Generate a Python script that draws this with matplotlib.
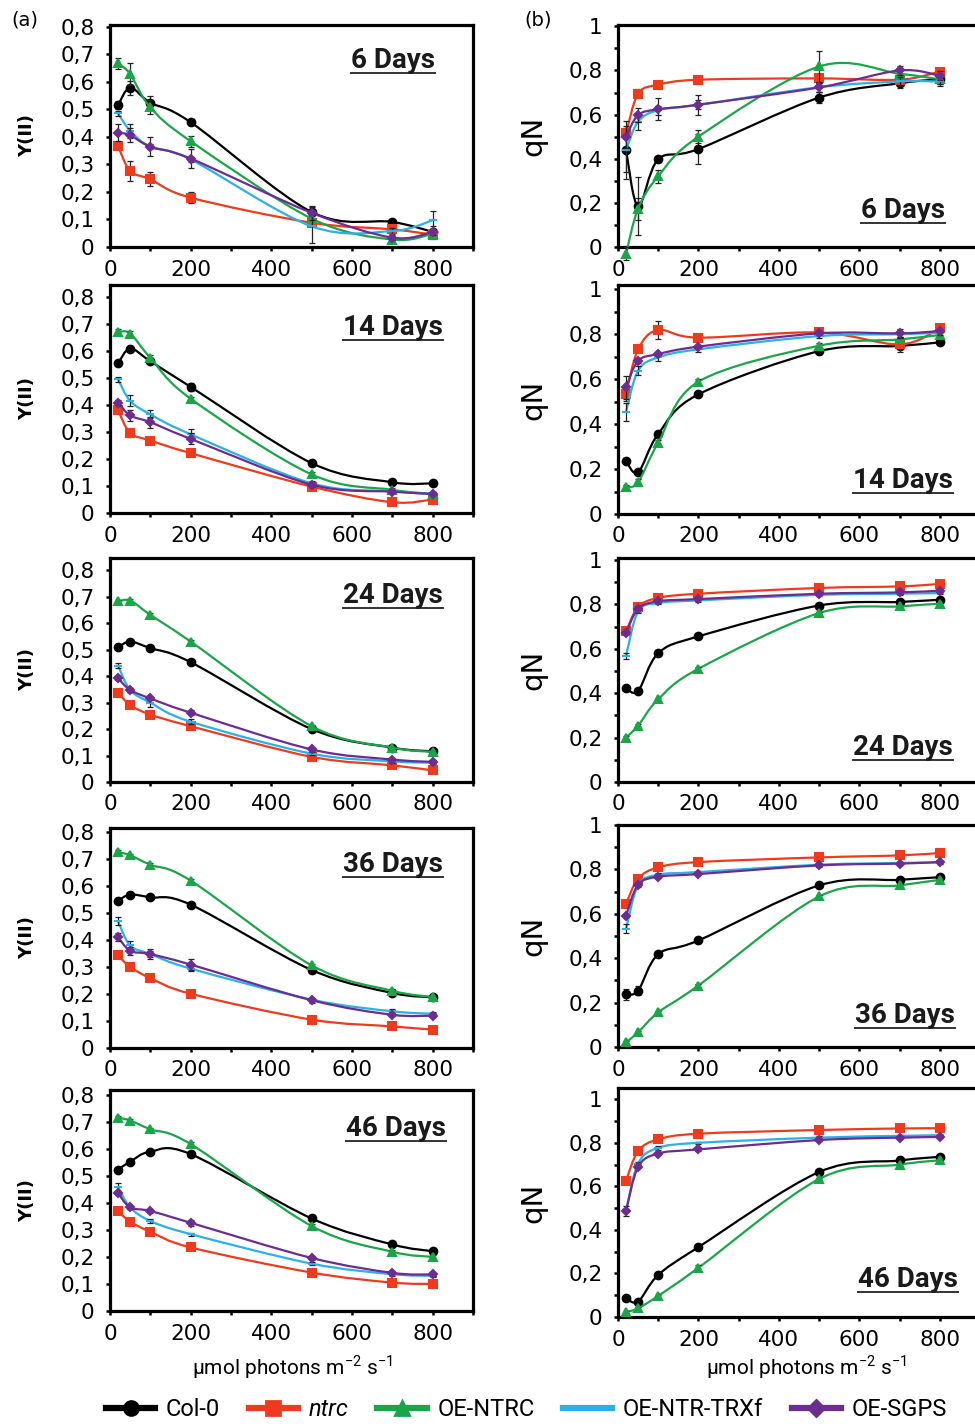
import numpy as np
import matplotlib.pyplot as plt
from matplotlib.path import Path
from matplotlib.patches import PathPatch
from matplotlib.lines import Line2D
from matplotlib.ticker import MultipleLocator, FuncFormatter

# light intensities (umol photons m-2 s-1)
light = [20, 50, 100, 200, 500, 700, 800]
days = ['6 Days', '14 Days', '24 Days', '36 Days', '46 Days']
genotypes = ['Col-0', 'ntrc', 'OE-NTRC', 'OE-NTR-TRXf', 'OE-SGPS']
colors = ['#000000', '#ee3a1d', '#1ba548', '#2cb0e6', '#6b2d8f']
markers = ['o', 's', '^', '_', 'D']
msizes = [5.5, 6, 6, 6, 3.8]

# Y(II), one row per age
yII_col0 = [[0.515, 0.578, 0.524, 0.453, 0.127, 0.091, 0.055],
            [0.555, 0.610, 0.563, 0.468, 0.185, 0.114, 0.110],
            [0.509, 0.531, 0.506, 0.453, 0.200, 0.130, 0.116],
            [0.546, 0.568, 0.558, 0.531, 0.289, 0.204, 0.188],
            [0.523, 0.552, 0.589, 0.580, 0.342, 0.246, 0.221]]
yII_ntrc = [[0.366, 0.276, 0.246, 0.179, 0.088, 0.064, 0.045],
            [0.381, 0.297, 0.269, 0.222, 0.098, 0.040, 0.050],
            [0.338, 0.291, 0.255, 0.211, 0.095, 0.063, 0.044],
            [0.343, 0.300, 0.259, 0.201, 0.105, 0.080, 0.068],
            [0.369, 0.330, 0.293, 0.235, 0.142, 0.105, 0.100]]
yII_oentrc = [[0.667, 0.628, 0.507, 0.384, 0.103, 0.027, 0.048],
              [0.672, 0.666, 0.576, 0.424, 0.143, 0.086, 0.071],
              [0.683, 0.686, 0.632, 0.531, 0.211, 0.130, 0.114],
              [0.726, 0.714, 0.679, 0.620, 0.306, 0.212, 0.189],
              [0.715, 0.704, 0.672, 0.617, 0.314, 0.219, 0.200]]
yII_trxf = [[0.485, 0.422, 0.364, 0.318, 0.075, 0.058, 0.097],
            [0.496, 0.416, 0.366, 0.292, 0.110, 0.081, 0.071],
            [0.440, 0.348, 0.300, 0.228, 0.107, 0.078, 0.073],
            [0.469, 0.380, 0.348, 0.294, 0.179, 0.136, 0.127],
            [0.457, 0.383, 0.333, 0.284, 0.175, 0.136, 0.130]]
yII_sgps = [[0.415, 0.406, 0.364, 0.321, 0.124, 0.034, 0.055],
            [0.410, 0.362, 0.337, 0.275, 0.105, 0.079, 0.071],
            [0.392, 0.348, 0.316, 0.262, 0.123, 0.085, 0.076],
            [0.411, 0.360, 0.348, 0.309, 0.177, 0.123, 0.120],
            [0.435, 0.383, 0.370, 0.326, 0.196, 0.141, 0.135]]

# qN, one row per age
qN_col0 = [[0.440, 0.185, 0.397, 0.444, 0.677, 0.742, 0.760],
           [0.236, 0.185, 0.356, 0.532, 0.724, 0.747, 0.763],
           [0.423, 0.410, 0.580, 0.656, 0.795, 0.811, 0.821],
           [0.238, 0.254, 0.418, 0.480, 0.728, 0.753, 0.765],
           [0.087, 0.071, 0.193, 0.321, 0.666, 0.719, 0.736]]
qN_ntrc = [[0.515, 0.694, 0.735, 0.758, 0.764, 0.758, 0.795],
           [0.533, 0.732, 0.818, 0.784, 0.807, 0.754, 0.825],
           [0.678, 0.788, 0.829, 0.848, 0.874, 0.881, 0.892],
           [0.644, 0.758, 0.809, 0.833, 0.854, 0.863, 0.874],
           [0.626, 0.762, 0.816, 0.842, 0.859, 0.866, 0.867]]
qN_oentrc = [[-0.030, 0.174, 0.321, 0.500, 0.818, 0.785, 0.760],
             [0.121, 0.141, 0.317, 0.588, 0.748, 0.776, 0.796],
             [0.200, 0.254, 0.373, 0.510, 0.761, 0.791, 0.803],
             [0.021, 0.066, 0.156, 0.277, 0.678, 0.728, 0.753],
             [0.023, 0.040, 0.097, 0.226, 0.634, 0.700, 0.720]]
qN_trxf = [[0.440, 0.568, 0.620, 0.644, 0.724, 0.750, 0.750],
           [0.455, 0.637, 0.696, 0.732, 0.791, 0.799, 0.806],
           [0.568, 0.768, 0.806, 0.818, 0.843, 0.848, 0.851],
           [0.532, 0.728, 0.776, 0.788, 0.821, 0.829, 0.832],
           [0.490, 0.705, 0.777, 0.800, 0.824, 0.832, 0.835]]
qN_sgps = [[0.500, 0.598, 0.624, 0.645, 0.723, 0.800, 0.776],
           [0.563, 0.681, 0.711, 0.744, 0.803, 0.803, 0.813],
           [0.671, 0.780, 0.814, 0.824, 0.848, 0.854, 0.862],
           [0.592, 0.731, 0.767, 0.779, 0.818, 0.826, 0.833],
           [0.487, 0.689, 0.751, 0.770, 0.813, 0.824, 0.827]]

# standard errors
s = 0.006
err_yII_col0 = [[0.015, 0.025, 0.025, 0.01, 0.02, 0.01, 0.02],
                [0.01, 0.01, 0.01, 0.015, s, 0.01, s],
                [0.01, s, 0.01, s, 0.01, s, s],
                [0.01, s, s, s, 0.01, 0.01, s],
                [0.01, s, s, s, s, s, s]]
err_yII_ntrc = [[0.01, 0.035, 0.025, 0.02, 0.01, 0.01, 0.015],
                [0.01, 0.015, s, 0.01, 0.01, s, 0.01],
                [s, s, s, s, s, s, s],
                [s, s, s, s, s, s, s],
                [s, s, s, s, s, s, s]]
err_yII_oentrc = [[0.02, 0.04, 0.025, 0.02, 0.01, 0.01, 0.01],
                  [0.01, 0.01, 0.01, s, 0.01, s, s],
                  [s, s, s, s, s, s, s],
                  [s, s, s, s, s, s, s],
                  [s, s, s, s, s, s, s]]
err_yII_trxf = [[0.01, 0.025, 0.01, 0.01, 0.06, 0.01, 0.035],
                [0.01, 0.02, 0.015, 0.02, 0.01, s, s],
                [0.01, s, 0.015, 0.01, s, s, s],
                [0.015, 0.015, 0.01, 0.01, s, 0.01, s],
                [0.015, s, s, s, s, s, s]]
err_yII_sgps = [[0.03, 0.025, 0.035, 0.035, 0.025, 0.01, 0.01],
                [0.01, 0.02, 0.02, 0.02, 0.01, s, s],
                [s, s, s, 0.01, s, s, s],
                [0.015, 0.015, 0.02, 0.02, 0.01, s, s],
                [s, s, s, 0.01, s, s, s]]
err_qN_col0 = [[0.10, 0.13, 0.01, 0.07, 0.025, 0.02, 0.02],
               [0.01, 0.01, 0.01, 0.01, 0.01, 0.01, 0.01],
               [s, s, s, s, s, s, s],
               [0.025, 0.02, 0.01, 0.01, 0.01, 0.01, 0.01],
               [s, s, s, s, s, s, s]]
err_qN_ntrc = [[0.02, 0.02, 0.01, 0.01, 0.02, 0.01, 0.01],
               [0.03, 0.01, 0.04, 0.01, 0.01, 0.035, 0.01],
               [s, s, s, s, s, s, s],
               [s, s, s, s, s, s, s],
               [s, s, s, s, s, s, s]]
err_qN_oentrc = [[0.03, 0.05, 0.03, 0.03, 0.07, 0.02, 0.02],
                 [0.01, 0.015, 0.01, 0.01, 0.01, 0.01, 0.01],
                 [s, s, s, s, s, s, s],
                 [s, s, s, s, s, s, s],
                 [s, s, s, 0.015, s, s, s]]
err_qN_trxf = [[0.13, 0.04, 0.02, 0.02, 0.02, 0.02, 0.02],
               [0.04, 0.02, 0.015, 0.01, 0.01, 0.01, 0.01],
               [0.015, s, s, s, s, s, s],
               [0.02, s, s, s, s, s, s],
               [s, s, 0.01, s, s, s, s]]
err_qN_sgps = [[0.05, 0.03, 0.05, 0.045, 0.02, 0.02, 0.02],
               [0.05, 0.01, s, s, s, 0.02, s],
               [s, s, s, s, s, s, s],
               [s, s, s, s, s, s, s],
               [0.025, s, s, s, s, s, s]]

yII_all = [yII_col0, yII_ntrc, yII_oentrc, yII_trxf, yII_sgps]
qN_all = [qN_col0, qN_ntrc, qN_oentrc, qN_trxf, qN_sgps]
err_yII_all = [err_yII_col0, err_yII_ntrc, err_yII_oentrc, err_yII_trxf, err_yII_sgps]
err_qN_all = [err_qN_col0, err_qN_ntrc, err_qN_oentrc, err_qN_trxf, err_qN_sgps]

W, H = 975, 1426
fig = plt.figure(figsize=(W / 100, H / 100), dpi=100)


def px_axes(x0, x1, top, bottom):
    return fig.add_axes([x0 / W, 1 - bottom / H, (x1 - x0) / W, (bottom - top) / H])


def smooth_path(xs, ys):
    # Excel-style smoothed line as cubic Bezier segments through the points
    p = np.column_stack([xs, ys]).astype(float)
    n = len(p)
    verts, codes = [p[0]], [Path.MOVETO]
    for i in range(n - 1):
        c1 = p[i] + (p[i + 1] - p[max(i - 1, 0)]) / 6
        c2 = p[i + 1] - (p[min(i + 2, n - 1)] - p[i]) / 6
        verts += [c1, c2, p[i + 1]]
        codes += [Path.CURVE4] * 3
    return Path(verts, codes)


def comma(step):
    def f(v, pos):
        if abs(v) < 1e-9:
            return '0'
        if abs(v - 1) < 1e-9:
            return '1'
        if abs(round(v / step) * step - v) > 1e-6:
            return ''
        return ('%.1f' % v).replace('.', ',')
    return FuncFormatter(f)


def xfmt(v, pos):
    v = int(round(v))
    return str(v) if v % 200 == 0 and v <= 800 else ''


def style(ax, ytop, ystep):
    ax.set_xlim(0, 900)
    ax.set_ylim(0, ytop)
    for sp in ax.spines.values():
        sp.set_linewidth(2.3)
    ax.xaxis.set_major_locator(MultipleLocator(100))
    ax.xaxis.set_major_formatter(FuncFormatter(xfmt))
    ax.yaxis.set_major_locator(MultipleLocator(0.1))
    ax.yaxis.set_major_formatter(comma(ystep))
    ax.tick_params(direction='out', length=3, width=1.8, labelsize=15.5, pad=6)
    ax.tick_params(axis='y', pad=8)


def draw_series(ax, data, errs, row):
    for k in range(len(genotypes)):
        y = data[k][row]
        ax.add_patch(PathPatch(smooth_path(light, y), fill=False, edgecolor=colors[k],
                               lw=1.6, clip_on=False, zorder=2 + k))
        ax.errorbar(light, y, yerr=errs[k][row], fmt='none', ecolor='#222222',
                    elinewidth=0.9, capsize=2, capthick=0.9, zorder=2 + k, clip_on=False)
        ax.plot(light, y, linestyle='none', marker=markers[k], color=colors[k],
                ms=msizes[k], mew=1.5, clip_on=False, zorder=2 + k)


rows_a = [(25, 247), (285, 513), (558, 782), (828, 1048), (1090, 1311)]
rows_b = [(25, 247), (285, 514), (558, 782), (825, 1047), (1088, 1317)]
ytop_a = [0.806, 0.846, 0.847, 0.815, 0.817]
ytop_b = [1.006, 1.018, 1.009, 1.0, 1.052]
# label anchor: (right edge px, baseline px)
lab_a = [(435, 68), (443, 335), (443, 603), (443, 872), (446, 1136)]
lab_b = [(945, 218), (953, 488), (953, 755), (955, 1023), (958, 1287)]

texts = []
for r in range(len(days)):
    axa = px_axes(110, 473, *rows_a[r])
    style(axa, ytop_a[r], 0.1)
    draw_series(axa, yII_all, err_yII_all, r)
    fig.text(27 / W, 1 - (rows_a[r][0] + rows_a[r][1]) / 2 / H, 'Y(II)', rotation=90,
             ha='center', va='center', fontsize=13, fontweight='bold')

    axb = px_axes(618, 980, *rows_b[r])
    style(axb, ytop_b[r], 0.2)
    axb.spines['right'].set_visible(False)
    draw_series(axb, qN_all, err_qN_all, r)
    fig.text(533 / W, 1 - (rows_b[r][0] + rows_b[r][1]) / 2 / H, 'qN', rotation=90,
             ha='center', va='center', fontsize=21)

    for (xr, yb) in (lab_a[r], lab_b[r]):
        t = fig.text(xr / W, 1 - yb / H, days[r], ha='right', va='baseline',
                     family='Roboto', fontweight='bold', fontsize=20, color='#1a1a1a')
        texts.append((t, yb))

fig.text(25 / W, 1 - 20 / H, '(a)', ha='center', va='center', fontsize=14)
fig.text(538 / W, 1 - 20 / H, '(b)', ha='center', va='center', fontsize=14)

xlab = r'µmol photons m$^{\mathregular{-2}}$ s$^{\mathregular{-1}}$'
fig.text(293 / W, 1 - 1367 / H, xlab, ha='center', va='center', fontsize=15, family='Roboto')
fig.text(807 / W, 1 - 1367 / H, xlab, ha='center', va='center', fontsize=15, family='Roboto')

# underline the age labels
fig.canvas.draw()
renderer = fig.canvas.get_renderer()
for t, yb in texts:
    bb = t.get_window_extent(renderer)
    yu = 1 - (yb + 5) / H
    fig.add_artist(Line2D([bb.x0 / W, bb.x1 / W], [yu, yu], transform=fig.transFigure,
                          color='#333333', lw=1.4))

leg_ms = [10, 10, 10, 10, 8]
handles = [Line2D([], [], color=colors[k], marker=markers[k], lw=4.5,
                  ms=leg_ms[k], mew=2) for k in range(len(genotypes))]
leg = fig.legend(handles, genotypes, loc='center', bbox_to_anchor=(0.54, 1 - 1410 / H),
                 ncol=5, frameon=False, handlelength=2.1, columnspacing=1.2,
                 handletextpad=0.45, prop={'family': 'Roboto', 'size': 17})
leg.get_texts()[1].set_style('italic')

fig.savefig('out.png', dpi=100)
